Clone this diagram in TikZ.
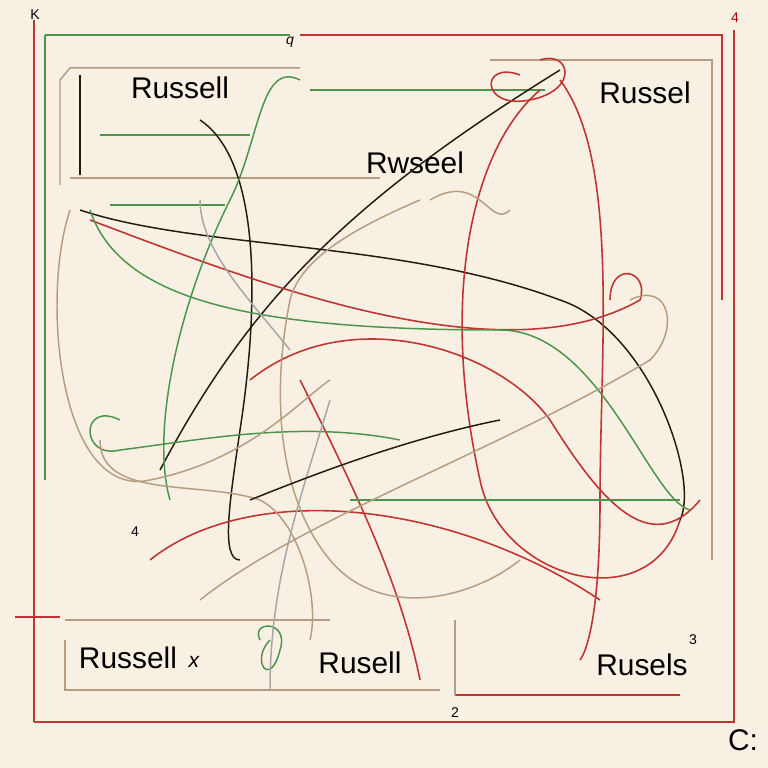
\documentclass[tikz,border=0pt]{standalone}
\usepackage{fontspec}
\setmainfont{Liberation Sans}
\definecolor{bg}{HTML}{F8F1E3}
\begin{document}
\begin{tikzpicture}[x=0.01cm,y=-0.01cm,
  lbl/.style={font=\fontsize{8.5}{9}\selectfont,inner sep=0.5pt},
  sm/.style={font=\fontsize{4}{4}\selectfont,inner sep=0.5pt},
  rd/.style={draw=red!70!black!80,line width=0.45pt},
  gr/.style={draw=green!40!black!70,line width=0.42pt},
  br/.style={draw=brown!70!black!60,line width=0.42pt},
  dk/.style={draw=black!80!brown,line width=0.42pt},
  gy/.style={draw=gray!70,line width=0.42pt}]
\fill[bg] (0,0) rectangle (768,768);
\useasboundingbox (0,0) rectangle (768,768);
% frames
\draw[rd] (34,722) -- (734,722) -- (734,30);
\draw[rd] (34,722) -- (34,20);
\draw[rd] (15,617) -- (60,617);
\draw[rd] (300,35) -- (722,35) -- (722,300);
\draw[gr] (45,35) -- (45,480);
\draw[gr] (45,35) -- (290,35);
\draw[br] (60,185) -- (60,80) -- (70,68) -- (300,68);
\draw[br] (490,60) -- (712,60) -- (712,560);
\draw[dk] (80,75) -- (80,175);
\draw[gr] (100,135) -- (250,135);
\draw[gr] (110,205) -- (225,205);
\draw[br] (70,178) -- (380,178);
\draw[br] (65,640) -- (65,690) -- (440,690);
\draw[br] (65,620) -- (330,620);
\draw[rd] (455,695) -- (680,695);
\draw[br] (455,620) -- (455,695);
\draw[gr] (310,90) -- (545,90);
% labels
\node[lbl,fill=bg] (r1) at (180,88) {Russell};
\node[lbl] (r2) at (645,93) {Russel};
\node[lbl,fill=bg] (r3) at (415,163) {Rwseel};
\node[lbl,fill=bg] (r4) at (128,658) {Russell};
\node[inner sep=0.5pt,font=\fontsize{6}{6}\selectfont\itshape] (x1) at (194,662) {x};
\node[lbl,fill=bg] (r5) at (360,663) {Rusell};
\node[lbl] (r6) at (642,665) {Rusels};
\node[sm] (n2) at (455,713) {2};
\node[lbl] (c1) at (743,740) {C:};
\node[sm] (n4) at (135,532) {4};
\node[sm] (n3) at (693,640) {3};
\node[sm,text=red!70!black] (na) at (735,18) {4};
\node[sm] (nk) at (35,15) {K};
\node[sm] (nq) at (290,42) {\itshape q};
% scribbles
\draw[dk] (80,210) .. controls (200,250) and (400,240) .. (560,300) .. controls (650,330) and (700,480) .. (680,520);
\draw[dk] (160,470) .. controls (250,300) and (350,200) .. (560,70);
\draw[dk] (200,120) .. controls (260,160) and (260,300) .. (240,430) .. controls (230,500) and (220,560) .. (240,560);
\draw[rd] (560,80) .. controls (620,160) and (600,350) .. (600,500) .. controls (600,640) and (580,660) .. (580,660);
\draw[rd] (540,90) .. controls (470,150) and (440,300) .. (480,480) .. controls (500,580) and (650,620) .. (680,520);
\draw[rd] (520,75) .. controls (480,60) and (480,110) .. (530,100) .. controls (580,90) and (570,50) .. (540,60);
\draw[rd] (90,220) .. controls (250,280) and (500,380) .. (640,300) .. controls (650,270) and (610,260) .. (610,300);
\draw[rd] (250,380) .. controls (350,300) and (500,350) .. (550,420) .. controls (600,500) and (650,560) .. (700,500);
\draw[rd] (150,560) .. controls (250,480) and (450,500) .. (600,600);
\draw[rd] (300,380) .. controls (350,480) and (400,580) .. (420,680);
\draw[gr] (300,80) .. controls (260,60) and (260,140) .. (230,200) .. controls (180,300) and (150,430) .. (170,500);
\draw[gr] (90,210) .. controls (120,300) and (250,330) .. (500,330) .. controls (600,330) and (650,500) .. (690,510);
\draw[gr] (120,420) .. controls (80,400) and (80,460) .. (120,450) .. controls (200,440) and (300,420) .. (400,440);
\draw[gr] (260,640) .. controls (250,620) and (290,620) .. (280,650) .. controls (270,690) and (250,660) .. (270,640);
\draw[gr] (350,500) -- (680,500);
\draw[br] (70,210) .. controls (40,300) and (60,500) .. (150,480) .. controls (250,460) and (300,400) .. (330,380);
\draw[br] (420,200) .. controls (350,230) and (300,260) .. (290,300) .. controls (270,400) and (280,500) .. (330,560) .. controls (380,620) and (470,600) .. (520,560);
\draw[br] (200,600) .. controls (300,520) and (500,450) .. (650,360) .. controls (680,330) and (670,280) .. (630,300);
\draw[br] (100,440) .. controls (100,500) and (200,480) .. (260,500) .. controls (300,520) and (320,600) .. (310,640);
\draw[gy] (290,350) .. controls (250,300) and (200,250) .. (200,200);
\draw[gy] (330,400) .. controls (300,500) and (270,580) .. (270,690);
\draw[dk] (250,500) .. controls (300,480) and (400,440) .. (500,420);
\draw[br] (430,200) .. controls (480,170) and (490,230) .. (510,210);
\end{tikzpicture}
\end{document}
